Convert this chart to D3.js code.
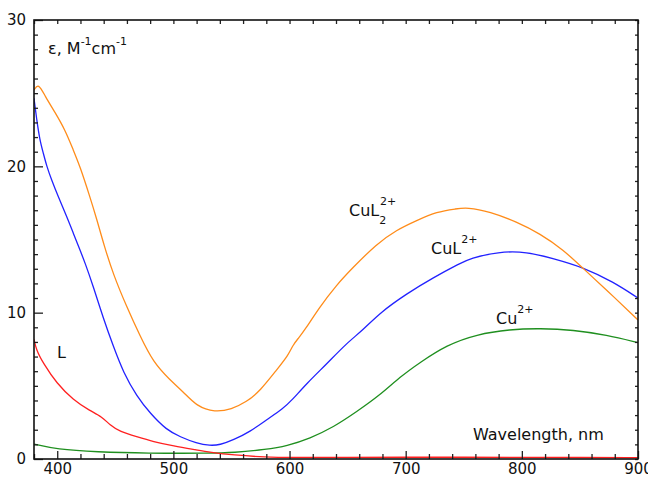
<!DOCTYPE html>
<html><head><meta charset="utf-8">
<script src="https://cdn.jsdelivr.net/npm/d3@7"></script>
<style>body{margin:0;background:#fff}svg{display:block}text{font-family:"DejaVu Sans",sans-serif;fill:#111}</style>
</head><body><svg id="c" width="648" height="479"></svg>
<script>
// CuL2 2+ (orange)
const cul2Wl  = [380,383.7,389.5,398,406.7,413.9,419.6,428.2,434,440.3,448.3,459.8,471.3,482.7,497,508.5,520,535.8,550,563,574.6,589,599,603,607.6,613,626,640.6,653.5,675,692,709.5,726.7,744,752.5,772.6,795.6,815.6,835.7,853,873,900];
const cul2Eps = [25.2,25.7,24.8,23.7,22.5,21.1,20.0,17.9,16.4,14.6,12.6,10.4,8.4,6.6,5.4,4.6,3.6,3.19,3.4,3.9,4.65,6.1,7.1,7.8,8.25,8.8,10.4,11.9,13.0,14.7,15.65,16.3,16.9,17.1,17.2,16.9,16.2,15.4,14.3,13.0,11.55,9.5];
// CuL 2+ (blue)
const culWl  = [380,382.3,385,388,391,395,401,408,414,419,424,431,439.7,448.3,457,468.4,480,494.2,505.7,520,531.5,540,551.6,566,580,594.6,601.9,614.8,632,649,663,677.9,700.9,723.8,746.8,755.4,779.7,804.2,827,853,878.7,900];
const culEps = [24.65,23.2,21.8,20.9,20.0,19.1,17.9,16.6,15.4,14.4,13.4,11.8,9.6,7.7,5.9,4.3,3.12,1.98,1.52,1.07,0.91,0.96,1.3,1.87,2.67,3.46,4.0,5.17,6.5,7.9,8.8,10.0,11.3,12.4,13.37,13.7,14.17,14.17,13.7,13.1,12.1,11.0];
// Cu 2+ (green)
const cuWl  = [380,399.5,434,477,531.5,551.6,580,597.6,617.6,637.7,657.8,677.9,695,712.3,735.3,761,789.8,815.6,844.3,873,900];
const cuEps = [1.02,0.66,0.48,0.39,0.39,0.43,0.66,0.89,1.41,2.17,3.23,4.37,5.6,6.6,7.79,8.52,8.86,8.93,8.82,8.47,7.95];
// L (red)
const lWl  = [380,382,388,399.5,413.8,428,438.3,445.4,454,468.4,482.7,500,520,531.5,551.6,580,600,650,700,750,800,850,900];
const lEps = [8.18,7.45,6.54,5.17,4.03,3.3,2.9,2.32,1.87,1.52,1.18,0.89,0.62,0.46,0.27,0.12,0.1,0.12,0.12,0.12,0.11,0.1,0.1];

const xMajor = [400,500,600,700,800,900];
const yMajor = [0,10,20,30];

const svg = d3.select("#c");
const L=34,R=638,T=20,B=459;
const x = d3.scaleLinear().domain([380,900]).range([L,R]);
const y = d3.scaleLinear().domain([0,30]).range([B,T]);

svg.append("clipPath").attr("id","clip").append("rect").attr("x",L).attr("y",T).attr("width",R-L).attr("height",B-T);

const line = d3.line().x(d=>x(d[0])).y(d=>y(d[1])).curve(d3.curveBasis);
const series = [
  {wl:cuWl, e:cuEps, c:"#1f8f1f"},
  {wl:lWl, e:lEps, c:"#ff2020"},
  {wl:culWl, e:culEps, c:"#2222ff"},
  {wl:cul2Wl, e:cul2Eps, c:"#ff8c1a"}
];
const g = svg.append("g").attr("clip-path","url(#clip)");
series.forEach(s=>{
  g.append("path").datum(s.wl.map((w,i)=>[w,s.e[i]]))
   .attr("d",line).attr("fill","none").attr("stroke",s.c).attr("stroke-width",1.3);
});

const xMinor = d3.range(380,901,20).filter(v=>v%100!==0);
const yMinor = d3.range(0,31,1).filter(v=>v%10!==0);
function style(a){a.select(".domain").remove();a.selectAll("line").attr("stroke","#222").attr("stroke-width",1.3);a.selectAll("text").attr("font-size",15).attr("fill","#111").attr("font-family","DejaVu Sans, sans-serif");}
svg.append("g").attr("transform",`translate(0,${B})`).call(d3.axisBottom(x).tickValues(xMajor).tickSize(-8).tickPadding(4).tickFormat(d3.format("d"))).call(style);
svg.append("g").attr("transform",`translate(0,${B})`).call(d3.axisBottom(x).tickValues(xMinor).tickSize(-5).tickFormat("")).call(style);
svg.append("g").attr("transform",`translate(0,${T})`).call(d3.axisTop(x).tickValues(d3.range(380,901,20)).tickSize(-4).tickFormat("")).call(style);
svg.append("g").attr("transform",`translate(${L},0)`).call(d3.axisLeft(y).tickValues(yMajor).tickSize(-9).tickPadding(8).tickFormat(d3.format("d"))).call(style);
svg.append("g").attr("transform",`translate(${L},0)`).call(d3.axisLeft(y).tickValues(yMinor).tickSize(-4).tickFormat("")).call(style);
svg.append("g").attr("transform",`translate(${R},0)`).call(d3.axisRight(y).tickValues(d3.range(0,31,1)).tickSize(-3).tickFormat("")).call(style);

svg.append("rect").attr("x",L).attr("y",T).attr("width",R-L).attr("height",B-T).attr("fill","none").attr("stroke","#111").attr("stroke-width",1.6);

function label(xp,yp,parts){
  const t=svg.append("text").attr("x",xp).attr("y",yp).attr("font-size",16);
  parts.forEach(p=>{
    const ts=t.append("tspan").text(p.t);
    if(p.sup||p.sub){ts.attr("font-size",11).attr("dy",p.dy);}
    else if(p.dy){ts.attr("dy",p.dy).attr("font-size",16);}
  });
}
label(48,54,[{t:"ε, M"},{t:"-1",sup:1,dy:-9},{t:"cm",dy:9},{t:"-1",sup:1,dy:-9}]);
label(349,216,[{t:"CuL"},{t:"2",sub:1,dy:8}]);
svg.append("text").attr("x",380).attr("y",205).attr("font-size",11).text("2+");
label(431,254,[{t:"CuL"},{t:"2+",sup:1,dy:-11}]);
label(496,324,[{t:"Cu"},{t:"2+",sup:1,dy:-11}]);
label(57,358,[{t:"L"}]);
svg.append("text").attr("x",473).attr("y",440).attr("font-size",16).text("Wavelength, nm");
</script></body></html>
